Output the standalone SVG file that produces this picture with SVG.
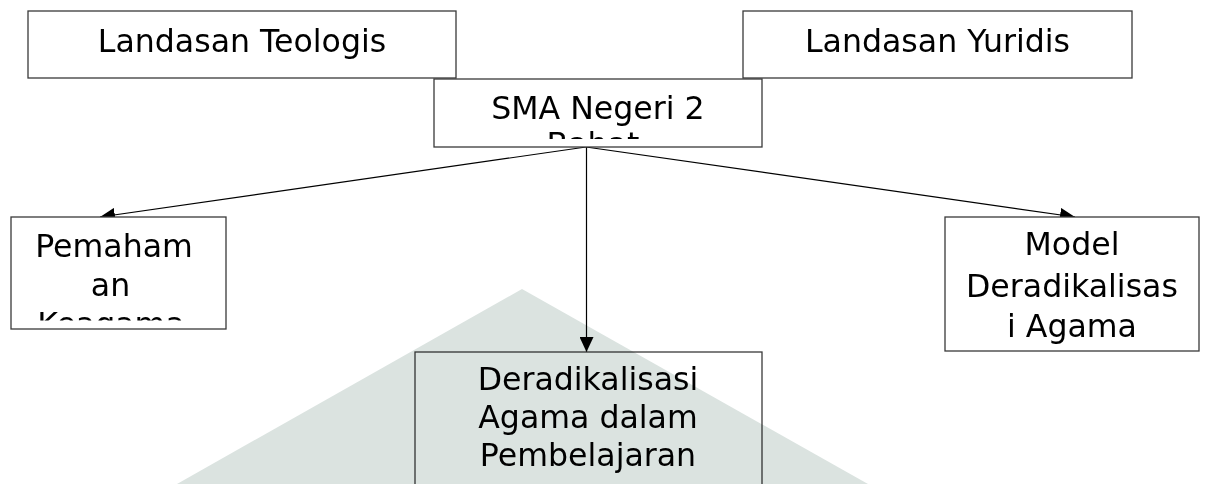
<svg xmlns="http://www.w3.org/2000/svg" width="1208" height="484" viewBox="0 0 1208 484">
<style>
.box{fill:#ffffff;stroke:#3a3a3a;stroke-width:1.3}
.t{font-family:"DejaVu Sans",Verdana,sans-serif;font-size:31.6px;fill:#000;text-anchor:middle}
.edge{stroke:#000;stroke-width:1.2;fill:none}
</style>
<defs>
<marker id="arr" markerUnits="userSpaceOnUse" markerWidth="16" markerHeight="14" refX="15" refY="7" orient="auto">
<path d="M0,0 L15,7 L0,14 z" fill="#000"/>
</marker>
<clipPath id="cSMA"><rect x="434" y="79" width="328" height="60"/></clipPath>
<clipPath id="cPem"><rect x="11" y="217" width="215" height="103.5"/></clipPath>
</defs>
<rect x="0" y="0" width="1208" height="484" fill="#ffffff"/>
<g id="connectors">
<line class="edge" x1="586" y1="147" x2="100" y2="217" marker-end="url(#arr)"/>
<line class="edge" x1="586" y1="147" x2="1075" y2="217" marker-end="url(#arr)"/>
<line class="edge" x1="586.5" y1="147" x2="586.5" y2="352" marker-end="url(#arr)"/>
</g>
<g id="landasan-teologis">
<rect class="box" x="28" y="11" width="428" height="67"/>
<text class="t" x="242" y="52">Landasan Teologis</text>
</g>
<g id="landasan-yuridis">
<rect class="box" x="743" y="11" width="389" height="67"/>
<text class="t" x="937.5" y="52">Landasan Yuridis</text>
</g>
<g id="sma">
<rect class="box" x="434" y="79" width="328" height="68"/>
<text class="t" x="598" y="119.3">SMA Negeri 2</text>
<text class="t" x="593" y="155" clip-path="url(#cSMA)">Babat</text>
</g>
<g id="pemahaman">
<rect class="box" x="11" y="217" width="215" height="112"/>
<g clip-path="url(#cPem)">
<text class="t" x="114" y="257">Pemaham</text>
<text class="t" x="110.5" y="296">an</text>
<text class="t" x="111" y="335">Keagama</text>
</g>
</g>
<g id="model">
<rect class="box" x="945" y="217" width="254" height="134"/>
<text class="t" x="1072" y="255">Model</text>
<text class="t" x="1072" y="296.5">Deradikalisas</text>
<text class="t" x="1072" y="337">i Agama</text>
</g>
<g id="deradikalisasi">
<rect class="box" x="415" y="352" width="347" height="150"/>
<text class="t" x="588" y="390">Deradikalisasi</text>
<text class="t" x="588" y="428">Agama dalam</text>
<text class="t" x="588" y="465.5">Pembelajaran</text>
</g>
<polygon points="522,289 177,484 868,484" fill="#dbe3e0" style="mix-blend-mode:multiply"/>
</svg>
